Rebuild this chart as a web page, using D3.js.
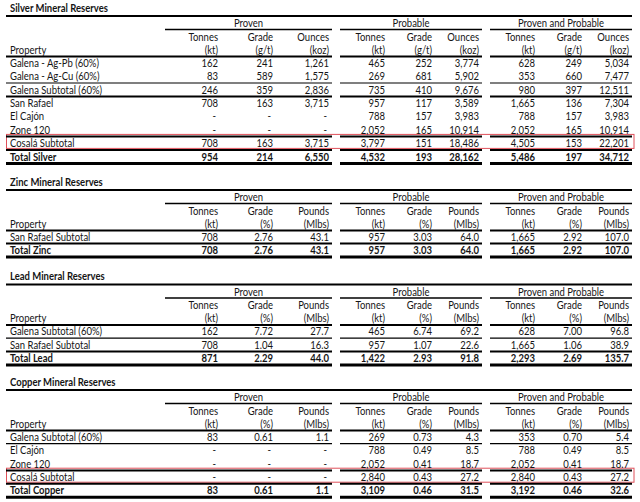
<!DOCTYPE html>
<html>
<head>
<meta charset="utf-8">
<script src="https://cdn.jsdelivr.net/npm/d3@7"></script>
<style>
  html, body { margin: 0; padding: 0; background: #fff; }
  svg { display: block; }
  text { font-family: Lato, "Open Sans", sans-serif; fill: #151515; }
</style>
</head>
<body>
<script>
// ---------------- DATA ----------------
const groupLabels = ["Proven", "Probable", "Proven and Probable"];
const silverHeaders = ["Tonnes", "Grade", "Ounces"];
const silverUnits = ["(kt)", "(g/t)", "(koz)"];
const baseHeaders = ["Tonnes", "Grade", "Pounds"];
const baseUnits = ["(kt)", "(%)", "(Mlbs)"];

// Silver
const silverTitle = "Silver Mineral Reserves";
const silverProperties = ["Galena - Ag-Pb (60%)", "Galena - Ag-Cu (60%)", "Galena Subtotal (60%)", "San Rafael", "El Cajón", "Zone 120", "Cosalá Subtotal", "Total Silver"];
const silverTonnesProven   = [162, 83, 246, 708, null, null, 708, 954];
const silverGradeProven    = [241, 589, 359, 163, null, null, 163, 214];
const silverOuncesProven   = [1261, 1575, 2836, 3715, null, null, 3715, 6550];
const silverTonnesProbable = [465, 269, 735, 957, 788, 2052, 3797, 4532];
const silverGradeProbable  = [252, 681, 410, 117, 157, 165, 151, 193];
const silverOuncesProbable = [3774, 5902, 9676, 3589, 3983, 10914, 18486, 28162];
const silverTonnesPP       = [628, 353, 980, 1665, 788, 2052, 4505, 5486];
const silverGradePP        = [249, 660, 397, 136, 157, 165, 153, 197];
const silverOuncesPP       = [5034, 7477, 12511, 7304, 3983, 10914, 22201, 34712];

// Zinc
const zincTitle = "Zinc Mineral Reserves";
const zincProperties = ["San Rafael Subtotal", "Total Zinc"];
const zincTonnesProven   = [708, 708];
const zincGradeProven    = [2.76, 2.76];
const zincPoundsProven   = [43.1, 43.1];
const zincTonnesProbable = [957, 957];
const zincGradeProbable  = [3.03, 3.03];
const zincPoundsProbable = [64.0, 64.0];
const zincTonnesPP       = [1665, 1665];
const zincGradePP        = [2.92, 2.92];
const zincPoundsPP       = [107.0, 107.0];

// Lead
const leadTitle = "Lead Mineral Reserves";
const leadProperties = ["Galena Subtotal (60%)", "San Rafael Subtotal", "Total Lead"];
const leadTonnesProven   = [162, 708, 871];
const leadGradeProven    = [7.72, 1.04, 2.29];
const leadPoundsProven   = [27.7, 16.3, 44.0];
const leadTonnesProbable = [465, 957, 1422];
const leadGradeProbable  = [6.74, 1.07, 2.93];
const leadPoundsProbable = [69.2, 22.6, 91.8];
const leadTonnesPP       = [628, 1665, 2293];
const leadGradePP        = [7.00, 1.06, 2.69];
const leadPoundsPP       = [96.8, 38.9, 135.7];

// Copper
const copperTitle = "Copper Mineral Reserves";
const copperProperties = ["Galena Subtotal (60%)", "El Cajón", "Zone 120", "Cosalá Subtotal", "Total Copper"];
const copperTonnesProven   = [83, null, null, null, 83];
const copperGradeProven    = [0.61, null, null, null, 0.61];
const copperPoundsProven   = [1.1, null, null, null, 1.1];
const copperTonnesProbable = [269, 788, 2052, 2840, 3109];
const copperGradeProbable  = [0.73, 0.49, 0.41, 0.43, 0.46];
const copperPoundsProbable = [4.3, 8.5, 18.7, 27.2, 31.5];
const copperTonnesPP       = [353, 788, 2052, 2840, 3192];
const copperGradePP        = [0.70, 0.49, 0.41, 0.43, 0.46];
const copperPoundsPP       = [5.4, 8.5, 18.7, 27.2, 32.6];

// ---------------- LAYOUT ----------------
const W = 640, H = 502;
const svg = d3.select("body").append("svg").attr("width", W).attr("height", H);

const colKeys = ["p0","p1","p2","b0","b1","b2","a0","a1","a2"];
const colX = d3.scaleOrdinal().domain(colKeys).range([218, 273, 329, 385, 432, 479, 535, 582, 629]);
const groupSpan = d3.scaleOrdinal().domain(groupLabels).range([[165, 332], [340, 482], [490, 632]]);
const segments = [[6, 332], [340, 482], [490, 632]];
const groupSegments = groupLabels.map(g => groupSpan(g));

const fmtInt = d3.format(",.0f");
const fmt2 = d3.format(".2f");
const fmt1 = d3.format(".1f");

const FS = 10.8;
const SX = 0.88; // horizontal condensation to mimic the narrow original face

function label(g, x, y, str, anchor, bold) {
  g.append("text")
    .attr("transform", `translate(${x},${y}) scale(${SX},1)`)
    .attr("dy", "0.35em")
    .attr("text-anchor", anchor || "start")
    .attr("font-size", FS)
    .attr("font-weight", bold ? "bold" : null)
    .text(str);
}

function hline(g, x1, x2, y, w, color) {
  g.append("line").attr("x1", x1).attr("x2", x2).attr("y1", y).attr("y2", y)
    .attr("stroke", color || "#000").attr("stroke-width", w);
}

function drawTable(cfg) {
  const g = svg.append("g");
  const T = cfg.top;
  const y = d3.scaleLinear().domain([0, 1]).range([T + 55, T + 55 + 13.4]);
  const lineY = i => y(i) + 6.6;

  // title
  label(g, 10, T, cfg.title, "start", true);
  hline(g, 6, 632, T + 8, 2.2);

  // group labels
  groupLabels.forEach(lbl => {
    const s = groupSpan(lbl);
    label(g, (s[0] + s[1]) / 2, T + 15.5, lbl, "middle");
  });
  groupSegments.forEach(s => hline(g, s[0], s[1], T + 21.5, 1.6));

  // column headers
  colKeys.forEach((k, i) => {
    label(g, colX(k), T + 29, cfg.headers[i % 3], "end");
    label(g, colX(k), T + 42, cfg.units[i % 3], "end");
  });
  label(g, 10, T + 42, "Property", "start");
  segments.forEach(s => hline(g, s[0], s[1], T + 48.5, 2));

  // red highlight
  if (cfg.highlight != null) {
    g.append("rect").attr("x", 6.5).attr("y", y(cfg.highlight) - 9).attr("width", 627.5).attr("height", 14)
      .attr("fill", "none").attr("stroke", "#e0505a").attr("stroke-width", 1);
  }

  // rows
  const n = cfg.properties.length;
  cfg.properties.forEach((p, r) => {
    const bold = r === n - 1;
    label(g, 10, y(r), p, "start", bold);
    cfg.columns.forEach((arr, c) => {
      const v = arr[r];
      const f = cfg.formats[c % 3];
      label(g, colX(colKeys[c]) - (v == null ? 2 : 0), y(r), v == null ? "-" : f(v), "end", bold);
    });
  });

  // row lines
  cfg.lines.forEach(([r, w]) => {
    segments.forEach(s => hline(g, s[0], s[1], lineY(r), w));
  });
}

drawTable({
  top: 8, title: silverTitle, headers: silverHeaders, units: silverUnits,
  properties: silverProperties,
  columns: [silverTonnesProven, silverGradeProven, silverOuncesProven,
            silverTonnesProbable, silverGradeProbable, silverOuncesProbable,
            silverTonnesPP, silverGradePP, silverOuncesPP],
  formats: [fmtInt, fmtInt, fmtInt],
  lines: [[1, 1.2], [2, 2], [5, 2], [6, 2], [7, 3]],
  highlight: 6
});

drawTable({
  top: 182, title: zincTitle, headers: baseHeaders, units: baseUnits,
  properties: zincProperties,
  columns: [zincTonnesProven, zincGradeProven, zincPoundsProven,
            zincTonnesProbable, zincGradeProbable, zincPoundsProbable,
            zincTonnesPP, zincGradePP, zincPoundsPP],
  formats: [fmtInt, fmt2, fmt1],
  lines: [[0, 2], [1, 3]],
  highlight: null
});

drawTable({
  top: 276.5, title: leadTitle, headers: baseHeaders, units: baseUnits,
  properties: leadProperties,
  columns: [leadTonnesProven, leadGradeProven, leadPoundsProven,
            leadTonnesProbable, leadGradeProbable, leadPoundsProbable,
            leadTonnesPP, leadGradePP, leadPoundsPP],
  formats: [fmtInt, fmt2, fmt1],
  lines: [[0, 1.2], [1, 2], [2, 3]],
  highlight: null
});

drawTable({
  top: 382, title: copperTitle, headers: baseHeaders, units: baseUnits,
  properties: copperProperties,
  columns: [copperTonnesProven, copperGradeProven, copperPoundsProven,
            copperTonnesProbable, copperGradeProbable, copperPoundsProbable,
            copperTonnesPP, copperGradePP, copperPoundsPP],
  formats: [fmtInt, fmt2, fmt1],
  lines: [[0, 1.2], [2, 2], [3, 2], [4, 3]],
  highlight: 3
});
</script>
</body>
</html>
